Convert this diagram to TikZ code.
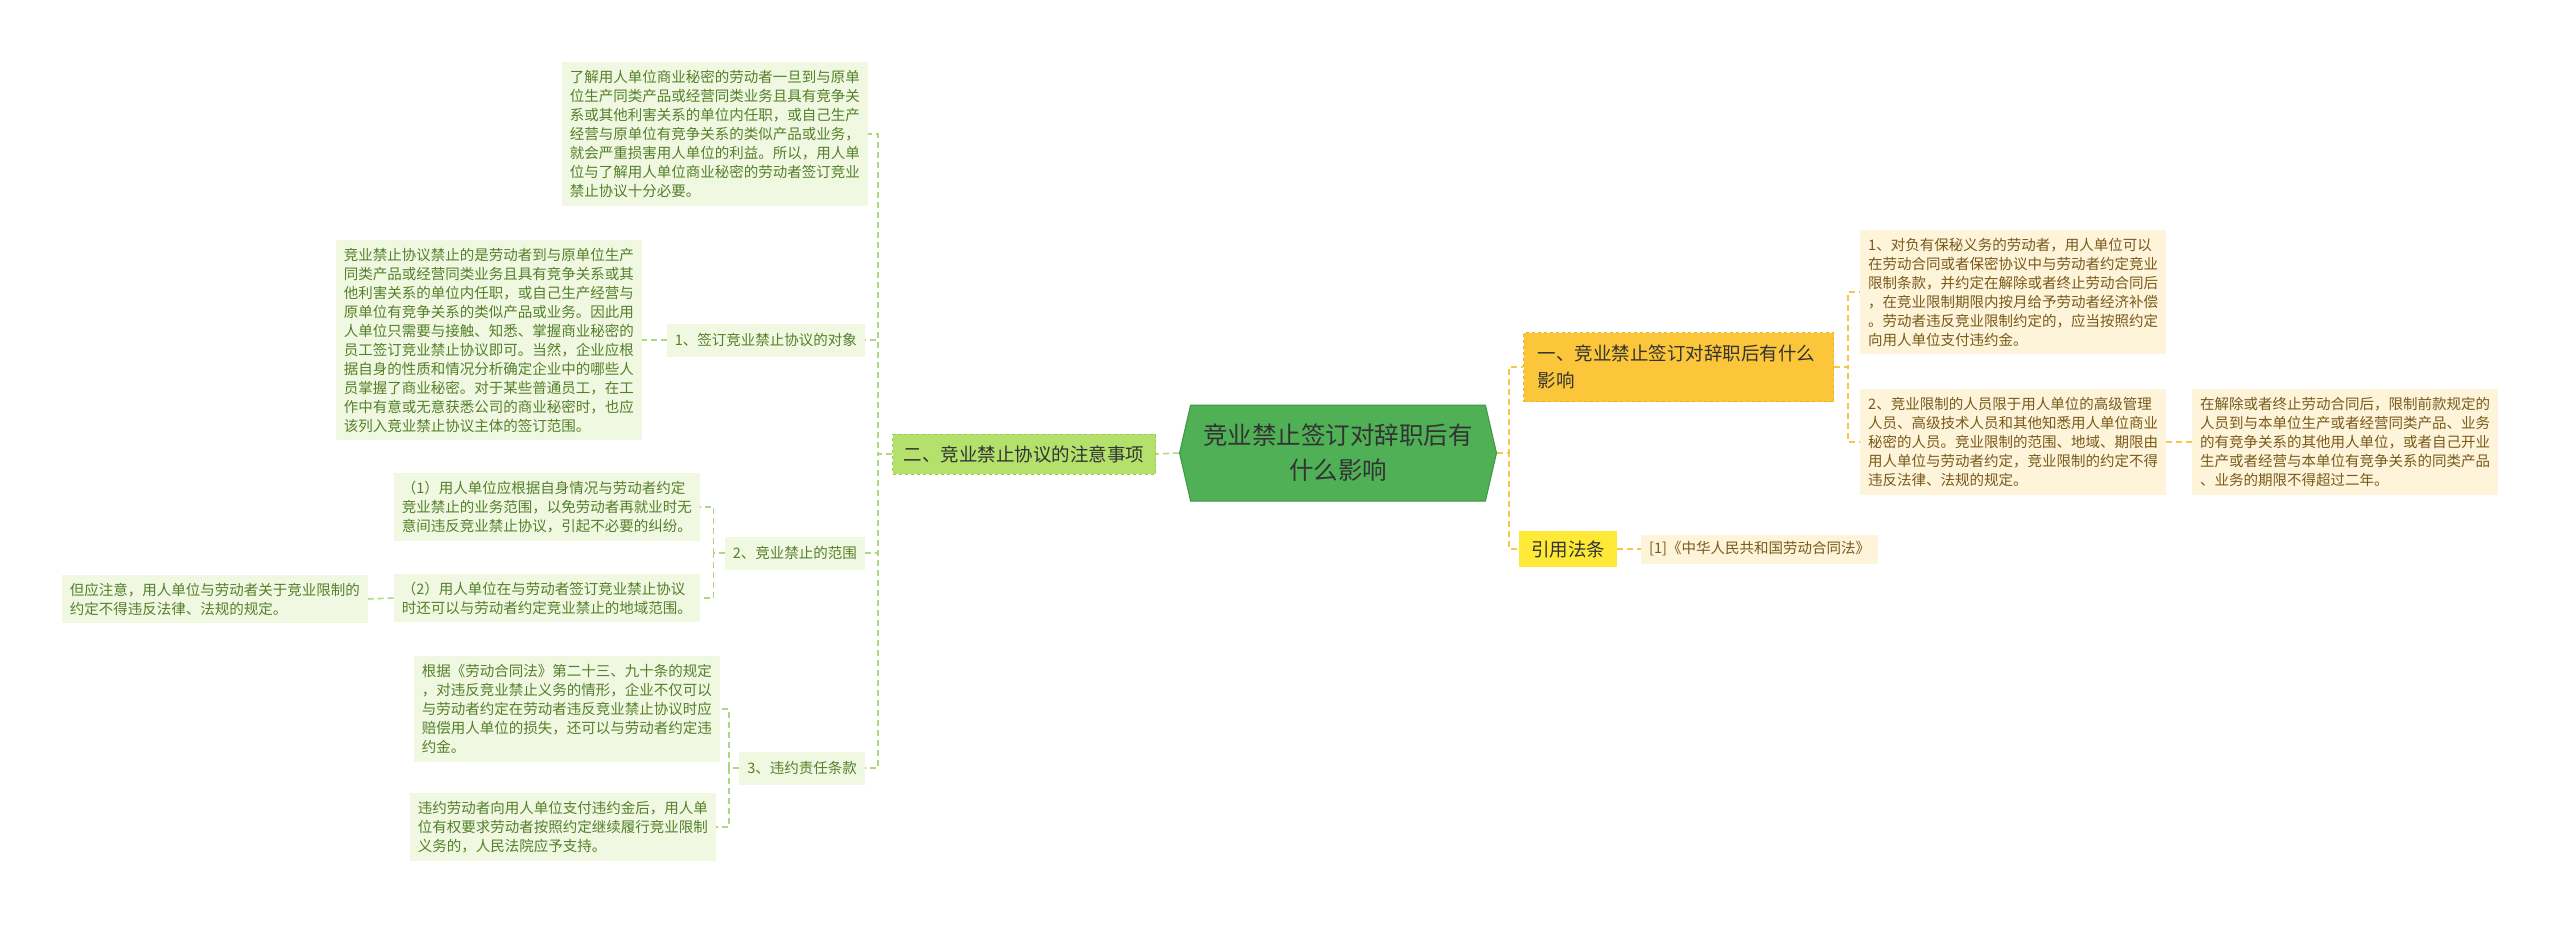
\documentclass[tikz,border=0pt]{standalone}
\usepackage{fontspec}
\setmainfont{Noto Sans CJK SC}
\usetikzlibrary{shapes.symbols, positioning}

\definecolor{rootgreen}{HTML}{4FB055}
\definecolor{rootline}{HTML}{3F9646}
\definecolor{limefill}{HTML}{B4E06C}
\definecolor{limeline}{HTML}{9ACB52}
\definecolor{leafgreen}{HTML}{F0F8E2}
\definecolor{textgreen}{HTML}{55802A}
\definecolor{linkgreen}{HTML}{AED77E}
\definecolor{amberfill}{HTML}{FCC63A}
\definecolor{amberline}{HTML}{EDB32C}
\definecolor{yellowfill}{HTML}{FDE936}
\definecolor{leafcream}{HTML}{FDF4DA}
\definecolor{textbrown}{HTML}{7A5A1A}
\definecolor{linkamber}{HTML}{F6C54A}
\definecolor{darktext}{HTML}{333333}

\begin{document}
\begin{tikzpicture}[x=1pt, y=-1pt,
    rootbox/.style={shape=signal, signal to=east and west, signal pointer angle=154,
        fill=rootgreen, draw=rootline, line width=1pt, text=darktext, align=center,
        minimum width=317pt, minimum height=96pt, inner sep=2pt,
        font=\fontsize{24.5}{35}\selectfont},
    topicleft/.style={fill=limefill, draw=limeline, dashed, line width=1pt, text=darktext,
        minimum width=263pt, minimum height=40pt, font=\fontsize{18.5}{22}\selectfont},
    topicright/.style={fill=amberfill, draw=amberline, dashed, line width=1pt, text=darktext,
        text width=282pt, align=left, inner xsep=14pt, minimum height=69pt,
        font=\fontsize{18.5}{27}\selectfont},
    lawbox/.style={fill=yellowfill, text=darktext, minimum width=98pt, minimum height=36pt,
        font=\fontsize{18.5}{22}\selectfont},
    subleft/.style={fill=leafgreen, text=textgreen, minimum height=33pt, inner xsep=8pt,
        font=\fontsize{14.5}{19}\selectfont},
    leafleft/.style={fill=leafgreen, text=textgreen, text width=290pt, align=left,
        inner xsep=8pt, inner ysep=8pt, font=\fontsize{14.5}{19}\selectfont},
    leafright/.style={fill=leafcream, text=textbrown, text width=290pt, align=left,
        inner xsep=8pt, inner ysep=8pt, font=\fontsize{14.5}{19}\selectfont},
    subright/.style={fill=leafcream, text=textbrown, minimum height=29pt, inner xsep=8pt,
        font=\fontsize{14.5}{19}\selectfont},
    leftlink/.style={draw=linkgreen, line width=1.5pt, dash pattern=on 6pt off 4pt},
    rightlink/.style={draw=linkamber, line width=1.5pt, dash pattern=on 6pt off 4pt}]

    % page frame
    \fill[white] (0,0) rectangle (2560,928);
    \useasboundingbox (0,0) rectangle (2560,928);

    % central topic
    \node[rootbox] (root) at (1338,453) {竞业禁止签订对辞职后有\\什么影响};

    % left main branch
    \node[topicleft, anchor=east] (notes) at (1156,454) {二、竞业禁止协议的注意事项};

    \node[leafleft, anchor=east] (secret) at (868,134)
        {了解用人单位商业秘密的劳动者一旦到与原单\\
         位生产同类产品或经营同类业务且具有竞争关\\
         系或其他利害关系的单位内任职，或自己生产\\
         经营与原单位有竞争关系的类似产品或业务，\\
         就会严重损害用人单位的利益。所以，用人单\\
         位与了解用人单位商业秘密的劳动者签订竞业\\
         禁止协议十分必要。};

    \node[subleft, anchor=east] (party) at (865,340) {1、签订竞业禁止协议的对象};
    \node[subleft, anchor=east] (scope) at (865,553) {2、竞业禁止的范围};
    \node[subleft, anchor=east] (breach) at (865,768) {3、违约责任条款};

    % leaves of 1
    \node[leafleft, anchor=east] (partytext) at (642,340)
        {竞业禁止协议禁止的是劳动者到与原单位生产\\
         同类产品或经营同类业务且具有竞争关系或其\\
         他利害关系的单位内任职，或自己生产经营与\\
         原单位有竞争关系的类似产品或业务。因此用\\
         人单位只需要与接触、知悉、掌握商业秘密的\\
         员工签订竞业禁止协议即可。当然，企业应根\\
         据自身的性质和情况分析确定企业中的哪些人\\
         员掌握了商业秘密。对于某些普通员工，在工\\
         作中有意或无意获悉公司的商业秘密时，也应\\
         该列入竞业禁止协议主体的签订范围。};

    % leaves of 2
    \node[leafleft, anchor=east] (scopeone) at (700,507)
        {（1）用人单位应根据自身情况与劳动者约定\\
         竞业禁止的业务范围，以免劳动者再就业时无\\
         意间违反竞业禁止协议，引起不必要的纠纷。};
    \node[leafleft, anchor=east] (scopetwo) at (700,598)
        {（2）用人单位在与劳动者签订竞业禁止协议\\
         时还可以与劳动者约定竞业禁止的地域范围。};
    \node[leafleft, anchor=east] (caution) at (368,599)
        {但应注意，用人单位与劳动者关于竞业限制的\\
         约定不得违反法律、法规的规定。};

    % leaves of 3
    \node[leafleft, anchor=east] (penalty) at (720,709)
        {根据《劳动合同法》第二十三、九十条的规定\\
         ，对违反竞业禁止义务的情形，企业不仅可以\\
         与劳动者约定在劳动者违反竞业禁止协议时应\\
         赔偿用人单位的损失，还可以与劳动者约定违\\
         约金。};
    \node[leafleft, anchor=east] (continue) at (716,827)
        {违约劳动者向用人单位支付违约金后，用人单\\
         位有权要求劳动者按照约定继续履行竞业限制\\
         义务的，人民法院应予支持。};

    % right main branch
    \node[topicright, anchor=west] (effect) at (1523,367) {一、竞业禁止签订对辞职后有什么\\影响};
    \node[lawbox, anchor=west] (law) at (1519,549) {引用法条};
    \node[subright, anchor=west] (lawref) at (1641,549) {[1]《中华人民共和国劳动合同法》};

    \node[leafright, anchor=west] (duty) at (1860,292)
        {1、对负有保秘义务的劳动者，用人单位可以\\
         在劳动合同或者保密协议中与劳动者约定竞业\\
         限制条款，并约定在解除或者终止劳动合同后\\
         ，在竞业限制期限内按月给予劳动者经济补偿\\
         。劳动者违反竞业限制约定的，应当按照约定\\
         向用人单位支付违约金。};
    \node[leafright, anchor=west] (limit) at (1860,442)
        {2、竞业限制的人员限于用人单位的高级管理\\
         人员、高级技术人员和其他知悉用人单位商业\\
         秘密的人员。竞业限制的范围、地域、期限由\\
         用人单位与劳动者约定，竞业限制的约定不得\\
         违反法律、法规的规定。};
    \node[leafright, anchor=west] (term) at (2192,442)
        {在解除或者终止劳动合同后，限制前款规定的\\
         人员到与本单位生产或者经营同类产品、业务\\
         的有竞争关系的其他用人单位，或者自己开业\\
         生产或者经营与本单位有竞争关系的同类产品\\
         、业务的期限不得超过二年。};

    % connectors, left side
    \draw[leftlink] (root.west) -- (notes.east);
    \draw[leftlink] (notes.west) -- ++(-14,0) |- (secret.east);
    \draw[leftlink] (notes.west) -- ++(-14,0) |- (party.east);
    \draw[leftlink] (notes.west) -- ++(-14,0) |- (scope.east);
    \draw[leftlink] (notes.west) -- ++(-14,0) |- (breach.east);
    \draw[leftlink] (party.west) -- (partytext.east);
    \draw[leftlink] (scope.west) -- ++(-11,0) |- (scopeone.east);
    \draw[leftlink] (scope.west) -- ++(-11,0) |- (scopetwo.east);
    \draw[leftlink] (scopetwo.west) -- (caution.east);
    \draw[leftlink] (breach.west) -- ++(-10,0) |- (penalty.east);
    \draw[leftlink] (breach.west) -- ++(-10,0) |- (continue.east);

    % connectors, right side
    \draw[rightlink] (root.east) -- ++(12,0) |- (effect.west);
    \draw[rightlink] (root.east) -- ++(12,0) |- (law.west);
    \draw[rightlink] (law.east) -- (lawref.west);
    \draw[rightlink] (effect.east) -- ++(14,0) |- (duty.west);
    \draw[rightlink] (effect.east) -- ++(14,0) |- (limit.west);
    \draw[rightlink] (limit.east) -- (term.west);

\end{tikzpicture}
\end{document}
